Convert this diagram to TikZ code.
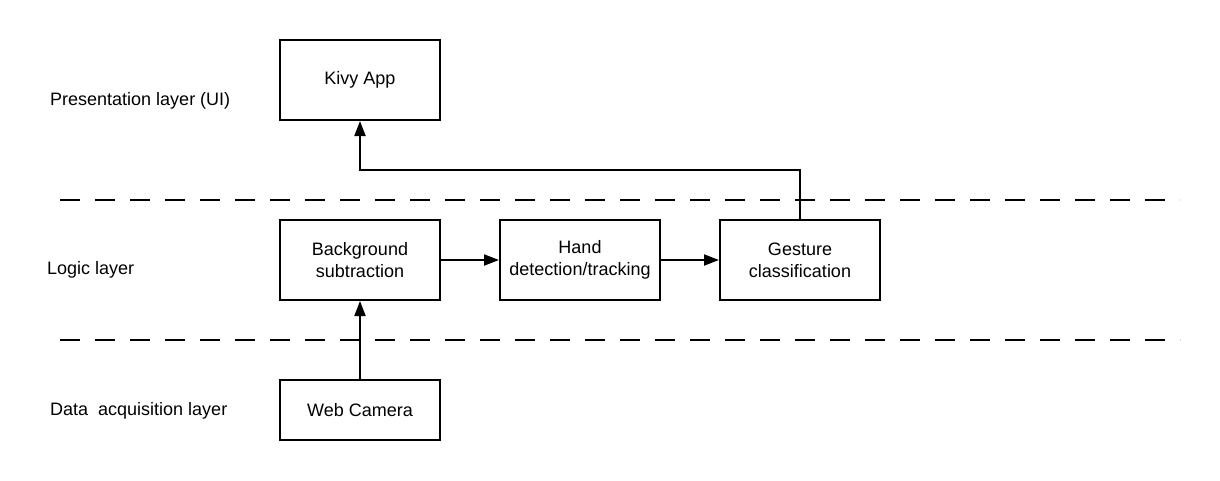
\documentclass[tikz,border=0pt]{standalone}
\usepackage{fontspec}
\setmainfont{Liberation Sans}
\usetikzlibrary{arrows.meta}
\begin{document}
\begin{tikzpicture}[x=1pt,y=-1pt,
  every node/.style={font=\fontsize{18}{22}\selectfont},
  box/.style={draw,line width=2pt,minimum width=160pt,minimum height=80pt,inner sep=0pt,align=center},
  lay/.style={anchor=west,inner sep=0pt},
  sep/.style={line width=2pt,dash pattern=on 20pt off 15pt},
  arr/.style={line width=2pt,-{Triangle[width=11pt,length=15pt]}}]
\useasboundingbox (0,0) rectangle (1220,480);
\node[box] (kivy) at (360,80) {Kivy App};
\node[box] (bg) at (360,260) {Background\\subtraction};
\node[box] (hand) at (580,260) {Hand\\detection/tracking};
\node[box] (gest) at (800,260) {Gesture\\classification};
\node[box,minimum height=60pt] (cam) at (360,410) {Web Camera};
\node[lay] (l1) at (50,101) {Presentation layer (UI)};
\node[lay] (l2) at (47,270) {Logic layer};
\node[lay] (l3) at (50,411) {Data\ \ acquisition layer};
\coordinate (s1a) at (60,200); \coordinate (s1b) at (1180,200);
\coordinate (s2a) at (60,340); \coordinate (s2b) at (1180,340);
\coordinate (bend) at (360,170);
\draw[sep] (s1a) -- (s1b);
\draw[sep] (s2a) -- (s2b);
\draw[arr] (cam) -- (bg);
\draw[arr] (bg) -- (hand);
\draw[arr] (hand) -- (gest);
\draw[arr] (gest.north) |- (bend) -- (kivy.south);
\end{tikzpicture}
\end{document}
